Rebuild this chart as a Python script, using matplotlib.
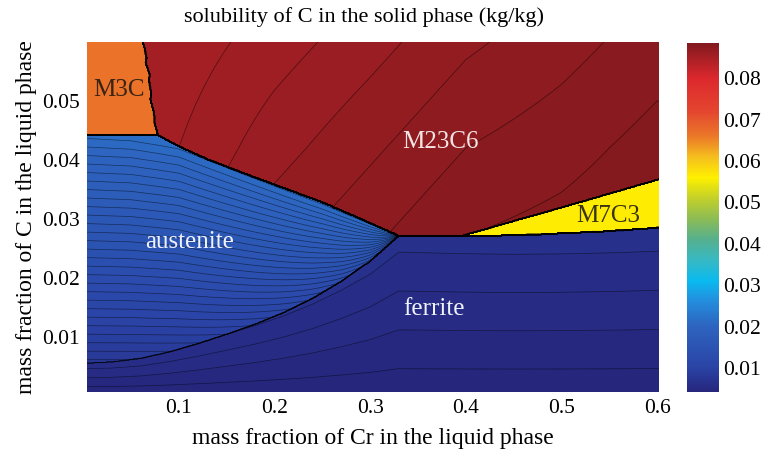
import numpy as np
import matplotlib
matplotlib.use("Agg")
import matplotlib.pyplot as plt
from matplotlib.colors import LinearSegmentedColormap, Normalize
from matplotlib.cm import ScalarMappable

# ---- liquid composition window (mass fractions) ----
cr_range = (0.004, 0.602)
c_range = (0.0006, 0.0600)

# ---- phase boundaries in the (Cr, C) liquid-composition plane ----
m3c_edge_cr = [0.0624, 0.0665, 0.0655, 0.0695, 0.0685, 0.0715, 0.0705,
               0.0740, 0.0750, 0.0780]
m3c_edge_c = [0.0600, 0.0573, 0.0565, 0.0544, 0.0536, 0.0512, 0.0503,
              0.0478, 0.0462, 0.0442]

aus_top_cr = [0.004, 0.078, 0.100, 0.130, 0.170, 0.210, 0.250, 0.290, 0.330]
aus_top_c = [0.0442, 0.0442, 0.0423, 0.0401, 0.0376, 0.0352, 0.0328, 0.0300, 0.0271]

fer_top_cr = [0.004, 0.030, 0.060, 0.090, 0.120, 0.150, 0.180, 0.210, 0.240,
              0.270, 0.300, 0.330, 0.396, 0.450, 0.500, 0.560, 0.602]
fer_top_c = [0.0055, 0.0057, 0.0063, 0.0074, 0.0088, 0.0104, 0.0121, 0.0141,
             0.0165, 0.0194, 0.0228, 0.0271, 0.0271, 0.0272, 0.0275, 0.0280, 0.0285]

m7c3_top_cr = [0.396, 0.500, 0.602]
m7c3_top_c = [0.0271, 0.0319, 0.0367]

# ---- carbon solubility of each solid phase (kg/kg) ----
m3c_val = 0.0668
m7c3_val = 0.0565

# austenite solubility along the low-Cr edge (C in liquid -> C in austenite)
aus_left_c = [0.0055, 0.0442]
aus_left_val = [0.0078, 0.0212]
# how far the upper austenite iso-lines have sunk at a given Cr content
aus_bend_cr = [0.004, 0.050, 0.100, 0.150, 0.200, 0.250, 0.300, 0.330]
aus_bend_c = [0.0, 0.0004, 0.0018, 0.0050, 0.0082, 0.0114, 0.0150, 0.0171]

fer_node_cr = [0.004, 0.300, 0.602]
fer_lower_val = [0.0042, 0.0042, 0.0042]
fer_upper_val = [0.0058, 0.0062, 0.0063]

m23_node_cr = [0.0, 0.1, 0.2, 0.3, 0.4, 0.5, 0.6]
m23_node_c = [0.027, 0.042, 0.060]
m23_val_c027 = [0.0851, 0.0858, 0.0868, 0.0874, 0.0880, 0.0882, 0.0885]
m23_val_c042 = [0.0852, 0.0855, 0.0863, 0.0869, 0.0875, 0.0878, 0.0882]
m23_val_c060 = [0.0851, 0.0852, 0.08575, 0.0863, 0.0869, 0.0873, 0.08775]

# ---- colour scale ----
z_min, z_max = 0.0042, 0.0885
cbar_ticks = [0.01, 0.02, 0.03, 0.04, 0.05, 0.06, 0.07, 0.08]
x_ticks = [0.1, 0.2, 0.3, 0.4, 0.5, 0.6]
y_ticks = [0.01, 0.02, 0.03, 0.04, 0.05]

cmap_vals = [0.0042, 0.0100, 0.0200, 0.0260, 0.0310, 0.0360, 0.0410, 0.0460,
             0.0510, 0.0560, 0.0610, 0.0660, 0.0720, 0.0800, 0.0885]
cmap_hex = ["#26267d", "#2a43a5", "#2d64bf", "#248cdc", "#0abaf0", "#37b9c3",
            "#55b08f", "#8cbc55", "#c3d02a", "#fff000", "#f5be1e", "#eb7828",
            "#e4462f", "#dc282d", "#82191e"]

pos = [(v - z_min) / (z_max - z_min) for v in cmap_vals]
cmap = LinearSegmentedColormap.from_list("sol", list(zip(pos, cmap_hex)), N=512)
norm = Normalize(vmin=z_min, vmax=z_max)

# ---- build the solubility map on a fine grid ----
CR, C = np.meshgrid(np.linspace(*cr_range, 700), np.linspace(*c_range, 600))

y_aus_top = np.interp(CR, aus_top_cr, aus_top_c)
y_fer_top = np.interp(CR, fer_top_cr, fer_top_c)
y_m7_top = np.interp(CR, m7c3_top_cr, m7c3_top_c)
x_m3c = np.interp(C, m3c_edge_c[::-1], m3c_edge_cr[::-1])

is_fer = C <= y_fer_top
is_aus = (~is_fer) & (CR < aus_top_cr[-1]) & (C < y_aus_top)
is_m3c = (C >= m3c_edge_c[-1]) & (CR < x_m3c)
is_m7 = (CR > m7c3_top_cr[0]) & (~is_fer) & (C < y_m7_top)

# austenite: iso-lines are level at the low-Cr edge and bend down with the
# carbide boundary, fading towards the ferrite boundary
t_aus = np.clip((C - y_fer_top) / np.maximum(y_aus_top - y_fer_top, 1e-9), 0, 1)
bend = np.interp(CR, aus_bend_cr, aus_bend_c)
aus_z = np.interp(C + bend * t_aus, aus_left_c, aus_left_val)

# ferrite: from the bottom of the window up to its boundary
t_fer = (C - c_range[0]) / (y_fer_top - c_range[0])
fer_lo = np.interp(CR, fer_node_cr, fer_lower_val)
fer_hi = np.interp(CR, fer_node_cr, fer_upper_val)
fer_z = fer_lo + (fer_hi - fer_lo) * t_fer

# M23C6: table over (Cr, C)
rows = np.stack([np.interp(CR, m23_node_cr, r)
                 for r in (m23_val_c027, m23_val_c042, m23_val_c060)])
idx = np.clip(np.searchsorted(m23_node_c, C) - 1, 0, len(m23_node_c) - 2)
c0 = np.take(m23_node_c, idx)
c1 = np.take(m23_node_c, idx + 1)
r0 = np.take_along_axis(rows, idx[None], axis=0)[0]
r1 = np.take_along_axis(rows, (idx + 1)[None], axis=0)[0]
m23_z = r0 + (r1 - r0) * (C - c0) / (c1 - c0)

Z = np.select([is_fer, is_aus, is_m3c, is_m7],
              [fer_z, aus_z, np.full_like(C, m3c_val), np.full_like(C, m7c3_val)],
              default=m23_z)
Z = np.clip(Z, z_min, z_max)

# ---- figure ----
plt.rcParams["font.family"] = ["Liberation Serif", "DejaVu Serif"]
fig = plt.figure(figsize=(7.69, 4.55), dpi=100)
ax = fig.add_axes([0.1131, 0.1385, 0.7438, 0.7692])

levels = np.arange(0.0040, 0.0891, 0.0005)
ax.contourf(CR, C, Z, levels=levels, cmap=cmap, norm=norm)
ax.contour(CR, C, Z, levels=levels, colors="k", linewidths=0.5, alpha=0.5)

ax.set_xlim(*cr_range)
ax.set_ylim(*c_range)
ax.set_xticks(x_ticks)
ax.set_xticklabels([f"{v:g}" for v in x_ticks])
ax.set_yticks(y_ticks)
ax.set_yticklabels([f"{v:g}" for v in y_ticks])
ax.tick_params(length=0, labelsize=15.5, pad=5)
for s in ax.spines.values():
    s.set_visible(False)

ax.set_xlabel("mass fraction of Cr in the liquid phase", fontsize=17, labelpad=7)
ax.set_ylabel("mass fraction of C in the liquid phase", fontsize=17, labelpad=4)
fig.text(0.4733, 0.962, "solubility of C in the solid phase (kg/kg)",
         fontsize=16, ha="center", va="center")

# phase names
ax.text(0.0372, 0.0519, "M3C", color="#3a2414", fontsize=18, ha="center", va="center")
ax.text(0.3735, 0.0431, "M23C6", color="#f4e4e4", fontsize=18, ha="center", va="center")
ax.text(0.5487, 0.0305, "M7C3", color="#3a3414", fontsize=18, ha="center", va="center")
ax.text(0.1115, 0.0260, "austenite", color="#eef2fb", fontsize=18, ha="center", va="center")
ax.text(0.3667, 0.0147, "ferrite", color="#eef2fb", fontsize=18, ha="center", va="center")

# colour bar
cax = fig.add_axes([0.8934, 0.1385, 0.0416, 0.7670])
cb = fig.colorbar(ScalarMappable(norm=norm, cmap=cmap), cax=cax, ticks=cbar_ticks)
cb.outline.set_visible(False)
cb.ax.set_yticklabels([f"{v:g}" for v in cbar_ticks])
cax.tick_params(length=0, labelsize=15.5, pad=3)

fig.savefig("out.png", dpi=100)
